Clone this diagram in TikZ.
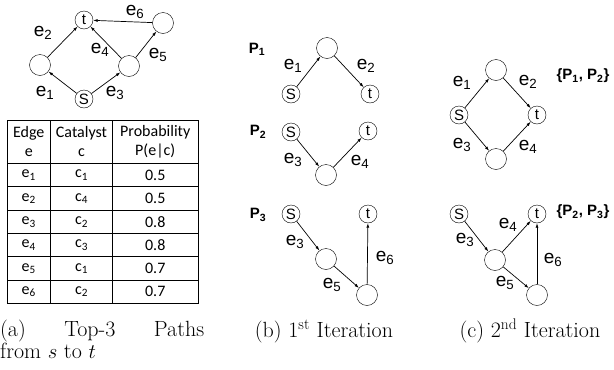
\documentclass[tikz,border=0pt]{standalone}
\usepackage{fontspec}
\usetikzlibrary{arrows.meta}
\newfontfamily\arialf{Liberation Sans}
\newfontfamily\calibf{Carlito}
\newcommand{\ee}[1]{e\textsubscript{#1}}
\newcommand{\cc}[1]{c\textsubscript{#1}}
\newcommand{\pp}[1]{P\textsubscript{#1}}

\begin{document}
\begin{tikzpicture}[x=1pt,y=-1pt,>={Latex[length=4.5pt,width=3pt]},
    vertex/.style={draw,circle,minimum size=21pt,inner sep=0pt},
    endpt/.style={draw,circle,minimum size=18pt,inner sep=0pt,
                  font=\arialf\fontsize{15}{15}\selectfont},
    elabel/.style={font=\arialf\fontsize{19}{19}\selectfont,inner sep=0pt},
    plabel/.style={font=\arialf\bfseries\fontsize{15}{15}\selectfont,inner sep=0pt},
    edge/.style={->,line width=0.7pt},
    cell/.style={font=\calibf\fontsize{16}{19}\selectfont,inner sep=0pt,align=center},
    caption/.style={font=\fontsize{22}{24.7}\selectfont,inner sep=0pt}]
    \useasboundingbox (0,0) rectangle (614,370);
    % (a) the graph
    \node[endpt] (t0) at (84,20) {t};
    \node[vertex] (w0) at (163,23) {};
    \node[vertex] (u0) at (40,65) {};
    \node[vertex] (v0) at (129,66) {};
    \node[endpt] (s0) at (84,99) {S};
    \draw[edge] (s0)--(u0);
    \draw[edge] (u0)--(t0);
    \draw[edge] (s0)--(v0);
    \draw[edge] (v0)--(t0);
    \draw[edge] (v0)--(w0);
    \draw[edge] (w0)--(t0);
    \node[elabel] at (45,93) {\ee{1}};
    \node[elabel] at (43,33) {\ee{2}};
    \node[elabel] at (115,93) {\ee{3}};
    \node[elabel] at (100,50) {\ee{4}};
    \node[elabel] at (158,55) {\ee{5}};
    \node[elabel] at (135,12) {\ee{6}};
    % (a) the table
    \draw[line width=1pt] (7,120) rectangle (198,303.5);
    \draw[line width=1pt] (50.5,120)--(50.5,303.5);
    \draw[line width=1pt] (112.5,120)--(112.5,303.5);
    \node[cell] (h1) at (28.75,141.75) {Edge\\e};
    \node[cell] (h2) at (81.5,141.75) {Catalyst\\c};
    \node[cell] (h3) at (155.25,141.75) {Probability\\P(e|c)};
    \foreach \i/\c/\p [count=\k] in {1/1/0.5,2/4/0.5,3/2/0.8,4/3/0.8,5/1/0.7,6/2/0.7} {
        \draw[line width=1pt] (7,{163.5+23.3*(\k-1)})--(198,{163.5+23.3*(\k-1)});
        \node[cell] (ed\k) at (28.75,{152+23.3*\k}) {\ee{\i}};
        \node[cell] (ca\k) at (81.5,{152+23.3*\k}) {\cc{\c}};
        \node[cell] (pr\k) at (155.25,{152+23.3*\k}) {\p};
    }
    \node[caption,anchor=base west,text width=204pt,align=left] (capa) at (0,336)
        {(a)\hfill Top-3\hfill Paths};
    \node[caption,anchor=base west] (capa2) at (0,358) {from $s$ to $t$};
    % (b) 1st iteration
    \node[plabel] (p1) at (257,49) {\pp{1}};
    \node[endpt] (s1) at (291,94) {S};
    \node[vertex] (u1) at (327,48) {};
    \node[endpt] (t1) at (370,94) {t};
    \draw[edge] (s1)--(u1);
    \draw[edge] (u1)--(t1);
    \node[elabel] at (293,66) {\ee{1}};
    \node[elabel] at (366,66) {\ee{2}};
    \node[plabel] (p2) at (258,132) {\pp{2}};
    \node[endpt] (s2) at (291,132) {S};
    \node[vertex] (u2) at (326,175) {};
    \node[endpt] (t2) at (368,131) {t};
    \draw[edge] (s2)--(u2);
    \draw[edge] (u2)--(t2);
    \node[elabel] at (293,160) {\ee{3}};
    \node[elabel] at (360,162) {\ee{4}};
    \node[plabel] (p3) at (258,215) {\pp{3}};
    \node[endpt] (s3) at (291,214) {S};
    \node[vertex] (u3) at (326,259) {};
    \node[vertex] (v3) at (367,295) {};
    \node[endpt] (t3) at (368,214) {t};
    \draw[edge] (s3)--(u3);
    \draw[edge] (u3)--(v3);
    \draw[edge] (v3)--(t3);
    \node[elabel] at (295,242) {\ee{3}};
    \node[elabel] at (332,285) {\ee{5}};
    \node[elabel] at (385,258) {\ee{6}};
    \node[caption,anchor=base] (capb) at (324,337) {(b) 1\textsuperscript{st} Iteration};
    % (c) 2nd iteration
    \node[endpt] (s4) at (459,115) {S};
    \node[vertex] (u4) at (496,70) {};
    \node[vertex] (v4) at (496,159) {};
    \node[endpt] (t4) at (537,115) {t};
    \draw[edge] (s4)--(u4);
    \draw[edge] (u4)--(t4);
    \draw[edge] (s4)--(v4);
    \draw[edge] (v4)--(t4);
    \node[elabel] at (462,83) {\ee{1}};
    \node[elabel] at (528,82) {\ee{2}};
    \node[elabel] at (462,145) {\ee{3}};
    \node[elabel] at (528,147) {\ee{4}};
    \node[plabel] (q1) at (583,76) {\{\pp{1}, \pp{2}\}};
    \node[endpt] (s5) at (459,214) {S};
    \node[vertex] (u5) at (495,260) {};
    \node[vertex] (v5) at (537,295) {};
    \node[endpt] (t5) at (537,214) {t};
    \draw[edge] (s5)--(u5);
    \draw[edge] (u5)--(t5);
    \draw[edge] (u5)--(v5);
    \draw[edge] (v5)--(t5);
    \node[elabel] at (465,240) {\ee{3}};
    \node[elabel] at (508,225) {\ee{4}};
    \node[elabel] at (505,283) {\ee{5}};
    \node[elabel] at (553,260) {\ee{6}};
    \node[plabel] (q2) at (583,212) {\{\pp{2}, \pp{3}\}};
    \node[caption,anchor=base] (capc) at (530,337) {(c) 2\textsuperscript{nd} Iteration};
\end{tikzpicture}
\end{document}
